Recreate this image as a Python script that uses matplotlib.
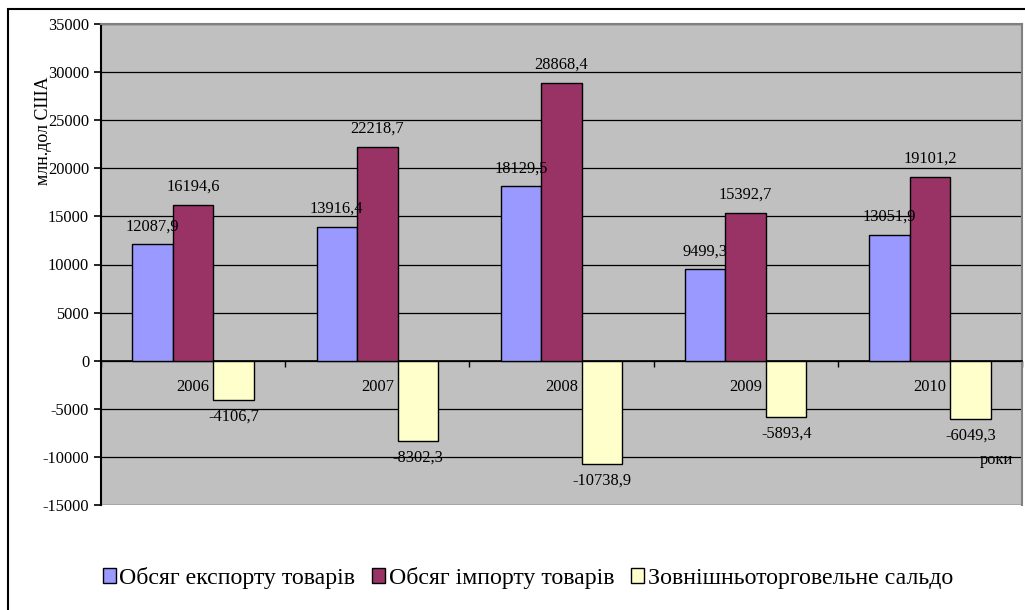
import matplotlib.pyplot as plt
from matplotlib.patches import Rectangle
import numpy as np

# data
years = ['2006', '2007', '2008', '2009', '2010']
export_vals = [12087.9, 13916.4, 18129.5, 9499.3, 13051.9]
import_vals = [16194.6, 22218.7, 28868.4, 15392.7, 19101.2]
saldo_vals = [-4106.7, -8302.3, -10738.9, -5893.4, -6049.3]
series_names = ['Обсяг експорту товарів', 'Обсяг імпорту товарів',
                'Зовнішньоторговельне сальдо']

plt.rcParams['font.family'] = ['Liberation Serif', 'DejaVu Serif']
plt.rcParams['axes.unicode_minus'] = False

fig = plt.figure(figsize=(10.25, 6.10), dpi=100)
ax = fig.add_axes([101/1025, 1-505/610, 921/1025, 481/610])
ax.set_facecolor('#C0C0C0')

x = np.arange(len(years))
w = 0.22
colors = ['#9999FF', '#993366', '#FFFFCC']
fs = 11.8

for i, (vals, c, name) in enumerate(zip([export_vals, import_vals, saldo_vals], colors, series_names)):
    bars = ax.bar(x + (i-1)*w, vals, w, color=c, edgecolor='black', linewidth=1, label=name, zorder=3)
    for b, v in zip(bars, vals):
        lbl = f'{v:.1f}'.replace('.', ',')
        xc = b.get_x() + b.get_width()/2
        off = 13 if v > 0 else -12
        ax.annotate(lbl, (xc, v), xytext=(0, off), textcoords='offset points',
                    ha='center', va='center', fontsize=fs, zorder=4)

ax.set_xlim(-0.5, 4.5)
ax.set_ylim(-15000, 35000)
ax.set_yticks(np.arange(-15000, 35001, 5000))
ax.tick_params(axis='y', labelsize=fs, direction='out', length=5, width=1.2)
ax.grid(axis='y', color='black', linewidth=0.9, zorder=1)

# category axis on the zero line
ax.spines['bottom'].set_position(('data', 0))
ax.spines['bottom'].set_linewidth(1.2)
ax.set_xticks(np.arange(-0.5, 4.6, 1.0))
ax.set_xticklabels([])
ax.set_xticks(x, minor=True)
ax.set_xticklabels(years, minor=True)
ax.tick_params(axis='x', which='major', direction='out', length=4, width=1)
ax.tick_params(axis='x', which='minor', length=0, pad=13, labelsize=fs)

ax.spines['left'].set_linewidth(1.5)
ax.spines['top'].set_color('#808080')
ax.spines['right'].set_color('#808080')
ax.spines['top'].set_linewidth(1.5)
ax.spines['right'].set_linewidth(1.5)

# axis titles (the reference has the y title overlapping the tick labels)
fig.text(44/1025, 1-131/610, 'млн.дол США', rotation=90, ha='center', va='center', fontsize=13)
fig.text(996/1025, 1-460/610, 'роки', ha='center', va='center', fontsize=fs)

# legend
fig.legend(loc='center', bbox_to_anchor=(0.515, 1-578/610), ncol=3, frameon=False,
           fontsize=17.2, handlelength=0.55, handleheight=0.55, handletextpad=0.15,
           columnspacing=0.7)

# outer frame
fig.patches.append(Rectangle((8/1025, -0.05), 1.1, 1-9/610+0.05, transform=fig.transFigure,
                             fill=False, edgecolor='black', linewidth=1.5))

fig.savefig('out.png', dpi=100)
